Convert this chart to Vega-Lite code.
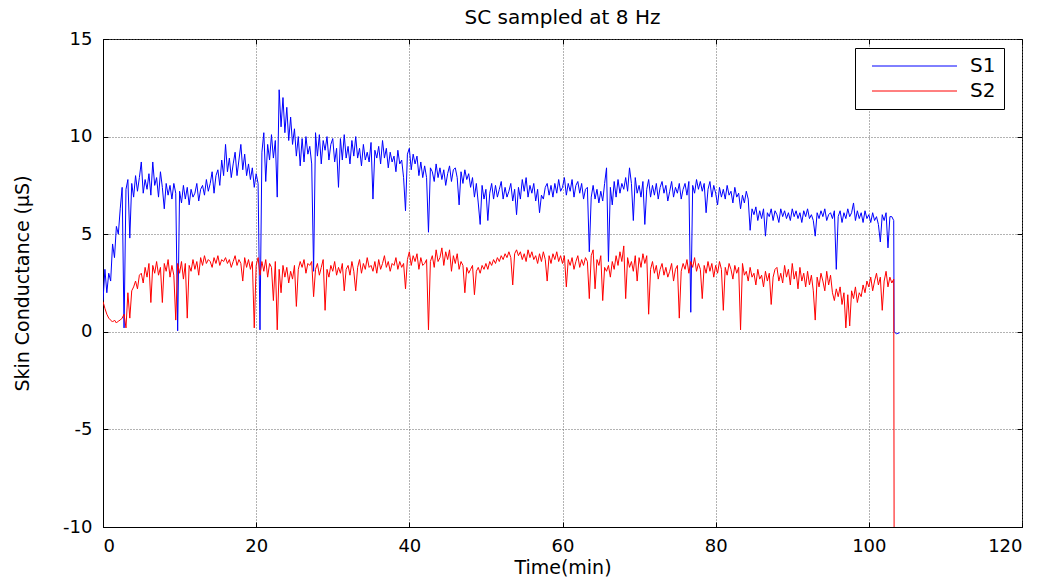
{
"$schema":"https://vega.github.io/schema/vega-lite/v6.json",
"width":919,"height":488,
"autosize":{"type":"none"},
"padding":{"left":103,"top":39,"right":30,"bottom":52},
"background":"white",
"title":{"text":"SC sampled at 8 Hz","font":"DejaVu Sans","fontSize":20,"fontWeight":"normal","color":"black","offset":2},
"data":{"values":[
{"t":0,"S1":1.6,"S2":1.55},{"t":0.25,"S1":3.2,"S2":1.2},{"t":0.5,"S1":2.0,"S2":0.9},{"t":0.75,"S1":3.0,"S2":0.7},
{"t":1,"S1":2.6,"S2":0.6},{"t":1.25,"S1":4.5,"S2":0.5},{"t":1.5,"S1":3.8,"S2":0.6},{"t":1.75,"S1":5.4,"S2":0.45},
{"t":2,"S1":5.0,"S2":0.55},{"t":2.25,"S1":6.3,"S2":0.6},{"t":2.5,"S1":7.4,"S2":0.7},{"t":2.75,"S1":0.2,"S2":0.9},
{"t":3,"S1":7.3,"S2":0.2},{"t":3.25,"S1":7.8,"S2":2.0},{"t":3.5,"S1":4.8,"S2":0.7},{"t":3.75,"S1":7.6,"S2":2.1},
{"t":4,"S1":6.9,"S2":2.3},{"t":4.25,"S1":8.0,"S2":2.6},{"t":4.5,"S1":7.2,"S2":2.2},{"t":4.75,"S1":7.9,"S2":2.9},
{"t":5,"S1":8.7,"S2":3.0},{"t":5.25,"S1":7.1,"S2":2.5},{"t":5.5,"S1":7.8,"S2":3.3},{"t":5.75,"S1":7.3,"S2":2.8},
{"t":6,"S1":8.1,"S2":3.5},{"t":6.25,"S1":7.0,"S2":1.5},{"t":6.5,"S1":8.7,"S2":3.4},{"t":6.75,"S1":7.5,"S2":3.0},
{"t":7,"S1":7.9,"S2":3.6},{"t":7.25,"S1":6.9,"S2":2.9},{"t":7.5,"S1":8.2,"S2":3.3},{"t":7.75,"S1":7.4,"S2":1.5},
{"t":8,"S1":6.3,"S2":3.5},{"t":8.25,"S1":7.6,"S2":3.1},{"t":8.5,"S1":7.0,"S2":3.7},{"t":8.75,"S1":7.5,"S2":2.8},
{"t":9,"S1":6.8,"S2":3.4},{"t":9.25,"S1":7.6,"S2":2.9},{"t":9.5,"S1":7.1,"S2":0.6},{"t":9.75,"S1":0.05,"S2":3.5},
{"t":10,"S1":7.2,"S2":3.0},{"t":10.25,"S1":6.6,"S2":3.6},{"t":10.5,"S1":7.5,"S2":2.7},{"t":10.75,"S1":6.8,"S2":3.5},
{"t":11,"S1":7.4,"S2":0.7},{"t":11.25,"S1":6.5,"S2":3.4},{"t":11.5,"S1":7.3,"S2":3.1},{"t":11.75,"S1":6.9,"S2":3.7},
{"t":12,"S1":7.1,"S2":3.2},{"t":12.25,"S1":7.6,"S2":3.6},{"t":12.5,"S1":6.7,"S2":2.9},{"t":12.75,"S1":7.3,"S2":3.8},
{"t":13,"S1":7.5,"S2":3.4},{"t":13.25,"S1":7.0,"S2":3.9},{"t":13.5,"S1":7.8,"S2":3.5},{"t":13.75,"S1":7.2,"S2":3.7},
{"t":14,"S1":7.6,"S2":3.6},{"t":14.25,"S1":8.2,"S2":3.3},{"t":14.5,"S1":7.1,"S2":3.8},{"t":14.75,"S1":8.0,"S2":3.5},
{"t":15,"S1":8.3,"S2":3.9},{"t":15.25,"S1":7.5,"S2":3.4},{"t":15.5,"S1":8.8,"S2":3.7},{"t":15.75,"S1":8.0,"S2":3.6},
{"t":16,"S1":9.6,"S2":3.8},{"t":16.25,"S1":8.2,"S2":3.5},{"t":16.5,"S1":8.9,"S2":3.7},{"t":16.75,"S1":7.9,"S2":3.3},
{"t":17,"S1":8.6,"S2":3.6},{"t":17.25,"S1":9.2,"S2":3.9},{"t":17.5,"S1":8.0,"S2":3.4},{"t":17.75,"S1":8.8,"S2":3.7},
{"t":18,"S1":9.6,"S2":3.5},{"t":18.25,"S1":8.3,"S2":2.6},{"t":18.5,"S1":9.1,"S2":3.8},{"t":18.75,"S1":8.0,"S2":3.3},
{"t":19,"S1":8.6,"S2":3.7},{"t":19.25,"S1":7.8,"S2":3.2},{"t":19.5,"S1":8.4,"S2":3.6},{"t":19.75,"S1":7.4,"S2":0.2},
{"t":20,"S1":8.1,"S2":3.4},{"t":20.25,"S1":7.6,"S2":3.8},{"t":20.5,"S1":0.1,"S2":2.9},{"t":20.75,"S1":9.2,"S2":3.6},
{"t":21,"S1":10.2,"S2":3.1},{"t":21.25,"S1":7.7,"S2":3.7},{"t":21.5,"S1":9.6,"S2":2.8},{"t":21.75,"S1":8.8,"S2":3.5},
{"t":22,"S1":10.1,"S2":3.3},{"t":22.25,"S1":8.9,"S2":1.6},{"t":22.5,"S1":9.8,"S2":3.6},{"t":22.75,"S1":6.9,"S2":0.1},
{"t":23,"S1":12.4,"S2":3.2},{"t":23.25,"S1":10.5,"S2":2.0},{"t":23.5,"S1":12.0,"S2":3.4},{"t":23.75,"S1":10.2,"S2":2.8},
{"t":24,"S1":11.5,"S2":3.3},{"t":24.25,"S1":9.8,"S2":2.5},{"t":24.5,"S1":11.0,"S2":3.1},{"t":24.75,"S1":9.6,"S2":2.7},
{"t":25,"S1":10.4,"S2":3.4},{"t":25.25,"S1":9.0,"S2":1.3},{"t":25.5,"S1":10.0,"S2":3.2},{"t":25.75,"S1":8.5,"S2":3.6},
{"t":26,"S1":9.9,"S2":3.3},{"t":26.25,"S1":8.7,"S2":3.7},{"t":26.5,"S1":10.0,"S2":3.0},{"t":26.75,"S1":9.1,"S2":3.5},
{"t":27,"S1":9.5,"S2":3.4},{"t":27.25,"S1":8.6,"S2":3.6},{"t":27.5,"S1":3.1,"S2":1.8},{"t":27.75,"S1":10.2,"S2":3.2},
{"t":28,"S1":9.0,"S2":3.5},{"t":28.25,"S1":10.1,"S2":2.9},{"t":28.5,"S1":8.6,"S2":3.3},{"t":28.75,"S1":9.8,"S2":3.7},
{"t":29,"S1":9.3,"S2":1.1},{"t":29.25,"S1":10.0,"S2":3.2},{"t":29.5,"S1":8.8,"S2":2.8},{"t":29.75,"S1":9.6,"S2":3.4},
{"t":30,"S1":9.9,"S2":3.1},{"t":30.25,"S1":8.7,"S2":3.6},{"t":30.5,"S1":9.4,"S2":2.9},{"t":30.75,"S1":7.4,"S2":3.3},
{"t":31,"S1":9.9,"S2":3.0},{"t":31.25,"S1":8.8,"S2":3.5},{"t":31.5,"S1":10.1,"S2":2.1},{"t":31.75,"S1":8.9,"S2":3.2},
{"t":32,"S1":9.5,"S2":3.4},{"t":32.25,"S1":8.6,"S2":2.9},{"t":32.5,"S1":9.8,"S2":3.6},{"t":32.75,"S1":9.0,"S2":3.1},
{"t":33,"S1":10.0,"S2":2.1},{"t":33.25,"S1":8.9,"S2":3.3},{"t":33.5,"S1":9.4,"S2":3.7},{"t":33.75,"S1":8.5,"S2":3.0},
{"t":34,"S1":9.6,"S2":3.5},{"t":34.25,"S1":8.8,"S2":3.2},{"t":34.5,"S1":9.2,"S2":3.8},{"t":34.75,"S1":8.7,"S2":3.3},
{"t":35,"S1":9.7,"S2":3.4},{"t":35.25,"S1":6.8,"S2":3.1},{"t":35.5,"S1":9.3,"S2":3.6},{"t":35.75,"S1":8.9,"S2":3.0},
{"t":36,"S1":9.5,"S2":3.7},{"t":36.25,"S1":8.6,"S2":3.2},{"t":36.5,"S1":9.8,"S2":3.5},{"t":36.75,"S1":8.9,"S2":3.9},
{"t":37,"S1":9.4,"S2":3.3},{"t":37.25,"S1":8.4,"S2":3.6},{"t":37.5,"S1":9.2,"S2":3.1},{"t":37.75,"S1":8.7,"S2":3.5},
{"t":38,"S1":9.0,"S2":3.4},{"t":38.25,"S1":8.2,"S2":3.8},{"t":38.5,"S1":9.3,"S2":3.2},{"t":38.75,"S1":8.6,"S2":3.6},
{"t":39,"S1":8.8,"S2":3.3},{"t":39.25,"S1":7.9,"S2":3.5},{"t":39.5,"S1":6.2,"S2":2.2},{"t":39.75,"S1":9.1,"S2":3.7},
{"t":40,"S1":9.4,"S2":4.1},{"t":40.25,"S1":8.3,"S2":3.4},{"t":40.5,"S1":9.1,"S2":3.9},{"t":40.75,"S1":8.6,"S2":3.6},
{"t":41,"S1":9.0,"S2":4.0},{"t":41.25,"S1":8.0,"S2":3.2},{"t":41.5,"S1":8.7,"S2":3.8},{"t":41.75,"S1":7.9,"S2":3.4},
{"t":42,"S1":8.5,"S2":3.5},{"t":42.25,"S1":7.9,"S2":3.7},{"t":42.5,"S1":5.1,"S2":0.1},{"t":42.75,"S1":8.4,"S2":3.6},
{"t":43,"S1":8.2,"S2":3.9},{"t":43.25,"S1":7.7,"S2":3.3},{"t":43.5,"S1":8.6,"S2":4.2},{"t":43.75,"S1":7.9,"S2":3.6},
{"t":44,"S1":8.4,"S2":3.8},{"t":44.25,"S1":7.8,"S2":4.3},{"t":44.5,"S1":8.3,"S2":3.4},{"t":44.75,"S1":7.5,"S2":4.1},
{"t":45,"S1":8.1,"S2":3.7},{"t":45.25,"S1":8.5,"S2":4.2},{"t":45.5,"S1":7.7,"S2":3.1},{"t":45.75,"S1":8.3,"S2":3.9},
{"t":46,"S1":8.4,"S2":3.5},{"t":46.25,"S1":7.9,"S2":4.0},{"t":46.5,"S1":6.5,"S2":3.2},{"t":46.75,"S1":8.2,"S2":3.6},
{"t":47,"S1":7.6,"S2":3.4},{"t":47.25,"S1":8.3,"S2":2.0},{"t":47.5,"S1":7.8,"S2":3.3},{"t":47.75,"S1":8.1,"S2":3.0},
{"t":48,"S1":7.4,"S2":3.2},{"t":48.25,"S1":7.9,"S2":3.4},{"t":48.5,"S1":6.9,"S2":1.9},{"t":48.75,"S1":7.6,"S2":3.1},
{"t":49,"S1":6.6,"S2":3.3},{"t":49.25,"S1":5.5,"S2":3.0},{"t":49.5,"S1":7.5,"S2":3.4},{"t":49.75,"S1":6.8,"S2":3.2},
{"t":50,"S1":7.3,"S2":3.5},{"t":50.25,"S1":5.7,"S2":3.2},{"t":50.5,"S1":7.1,"S2":3.6},{"t":50.75,"S1":7.6,"S2":3.4},
{"t":51,"S1":6.8,"S2":3.7},{"t":51.25,"S1":7.5,"S2":3.5},{"t":51.5,"S1":6.9,"S2":3.8},{"t":51.75,"S1":7.3,"S2":3.6},
{"t":52,"S1":7.7,"S2":3.9},{"t":52.25,"S1":6.8,"S2":3.7},{"t":52.5,"S1":7.4,"S2":4.0},{"t":52.75,"S1":6.9,"S2":3.8},
{"t":53,"S1":7.2,"S2":4.1},{"t":53.25,"S1":7.6,"S2":3.8},{"t":53.5,"S1":6.7,"S2":2.4},{"t":53.75,"S1":7.3,"S2":4.0},
{"t":54,"S1":6.0,"S2":4.2},{"t":54.25,"S1":7.4,"S2":3.9},{"t":54.5,"S1":6.8,"S2":4.1},{"t":54.75,"S1":7.8,"S2":3.7},
{"t":55,"S1":7.2,"S2":4.0},{"t":55.25,"S1":7.9,"S2":3.6},{"t":55.5,"S1":6.9,"S2":4.2},{"t":55.75,"S1":7.5,"S2":3.8},
{"t":56,"S1":7.1,"S2":4.1},{"t":56.25,"S1":7.6,"S2":3.7},{"t":56.5,"S1":6.7,"S2":3.9},{"t":56.75,"S1":7.3,"S2":3.5},
{"t":57,"S1":6.1,"S2":4.0},{"t":57.25,"S1":7.0,"S2":3.6},{"t":57.5,"S1":6.8,"S2":4.1},{"t":57.75,"S1":7.4,"S2":3.7},
{"t":58,"S1":7.6,"S2":2.6},{"t":58.25,"S1":7.0,"S2":3.9},{"t":58.5,"S1":7.5,"S2":3.5},{"t":58.75,"S1":6.9,"S2":4.0},
{"t":59,"S1":7.6,"S2":3.7},{"t":59.25,"S1":7.1,"S2":4.1},{"t":59.5,"S1":7.8,"S2":3.6},{"t":59.75,"S1":7.2,"S2":3.9},
{"t":60,"S1":7.4,"S2":3.5},{"t":60.25,"S1":7.9,"S2":3.9},{"t":60.5,"S1":7.0,"S2":2.3},{"t":60.75,"S1":7.6,"S2":3.7},
{"t":61,"S1":7.2,"S2":3.4},{"t":61.25,"S1":7.8,"S2":3.8},{"t":61.5,"S1":6.9,"S2":3.2},{"t":61.75,"S1":7.5,"S2":3.6},
{"t":62,"S1":7.7,"S2":3.9},{"t":62.25,"S1":7.1,"S2":3.3},{"t":62.5,"S1":7.6,"S2":3.7},{"t":62.75,"S1":6.8,"S2":3.4},
{"t":63,"S1":7.3,"S2":3.8},{"t":63.25,"S1":7.4,"S2":3.6},{"t":63.5,"S1":4.1,"S2":1.7},{"t":63.75,"S1":6.9,"S2":3.9},
{"t":64,"S1":7.5,"S2":4.2},{"t":64.25,"S1":6.8,"S2":2.2},{"t":64.5,"S1":7.3,"S2":3.7},{"t":64.75,"S1":6.6,"S2":3.4},
{"t":65,"S1":7.2,"S2":3.9},{"t":65.25,"S1":6.7,"S2":1.6},{"t":65.5,"S1":7.6,"S2":3.3},{"t":65.75,"S1":8.4,"S2":3.1},
{"t":66,"S1":3.6,"S2":3.4},{"t":66.25,"S1":7.4,"S2":2.8},{"t":66.5,"S1":6.5,"S2":3.6},{"t":66.75,"S1":7.7,"S2":3.2},
{"t":67,"S1":6.9,"S2":3.9},{"t":67.25,"S1":7.8,"S2":3.4},{"t":67.5,"S1":7.1,"S2":4.1},{"t":67.75,"S1":7.6,"S2":3.6},
{"t":68,"S1":7.3,"S2":4.4},{"t":68.25,"S1":7.9,"S2":1.7},{"t":68.5,"S1":7.2,"S2":3.8},{"t":68.75,"S1":8.4,"S2":3.3},
{"t":69,"S1":7.6,"S2":3.6},{"t":69.25,"S1":5.7,"S2":3.1},{"t":69.5,"S1":7.9,"S2":3.9},{"t":69.75,"S1":7.1,"S2":2.6},
{"t":70,"S1":7.5,"S2":3.8},{"t":70.25,"S1":6.9,"S2":3.3},{"t":70.5,"S1":7.7,"S2":4.0},{"t":70.75,"S1":5.5,"S2":3.5},
{"t":71,"S1":7.3,"S2":3.9},{"t":71.25,"S1":7.8,"S2":0.9},{"t":71.5,"S1":6.9,"S2":3.2},{"t":71.75,"S1":7.5,"S2":3.6},
{"t":72,"S1":7.0,"S2":3.0},{"t":72.25,"S1":7.6,"S2":3.4},{"t":72.5,"S1":6.8,"S2":2.7},{"t":72.75,"S1":7.4,"S2":3.2},
{"t":73,"S1":7.7,"S2":3.5},{"t":73.25,"S1":7.1,"S2":2.9},{"t":73.5,"S1":7.5,"S2":3.3},{"t":73.75,"S1":6.7,"S2":2.8},
{"t":74,"S1":7.2,"S2":3.1},{"t":74.25,"S1":7.7,"S2":3.5},{"t":74.5,"S1":6.9,"S2":2.6},{"t":74.75,"S1":7.4,"S2":3.2},
{"t":75,"S1":7.1,"S2":3.4},{"t":75.25,"S1":7.6,"S2":0.7},{"t":75.5,"S1":6.8,"S2":3.1},{"t":75.75,"S1":7.3,"S2":3.5},
{"t":76,"S1":7.6,"S2":3.2},{"t":76.25,"S1":7.0,"S2":3.7},{"t":76.5,"S1":7.7,"S2":3.0},{"t":76.75,"S1":1.0,"S2":3.6},
{"t":77,"S1":7.5,"S2":3.3},{"t":77.25,"S1":7.1,"S2":3.8},{"t":77.5,"S1":7.8,"S2":3.1},{"t":77.75,"S1":7.3,"S2":3.5},
{"t":78,"S1":7.7,"S2":3.2},{"t":78.25,"S1":7.2,"S2":1.7},{"t":78.5,"S1":7.6,"S2":3.4},{"t":78.75,"S1":6.1,"S2":3.0},
{"t":79,"S1":7.3,"S2":3.6},{"t":79.25,"S1":7.7,"S2":3.1},{"t":79.5,"S1":6.9,"S2":3.5},{"t":79.75,"S1":7.5,"S2":2.8},
{"t":80,"S1":7.1,"S2":3.4},{"t":80.25,"S1":6.5,"S2":3.0},{"t":80.5,"S1":7.4,"S2":3.6},{"t":80.75,"S1":6.9,"S2":3.2},
{"t":81,"S1":7.3,"S2":1.1},{"t":81.25,"S1":6.8,"S2":3.3},{"t":81.5,"S1":7.5,"S2":2.9},{"t":81.75,"S1":7.0,"S2":3.5},
{"t":82,"S1":7.2,"S2":3.2},{"t":82.25,"S1":6.6,"S2":2.7},{"t":82.5,"S1":7.4,"S2":3.4},{"t":82.75,"S1":6.9,"S2":3.0},
{"t":83,"S1":7.1,"S2":3.3},{"t":83.25,"S1":6.3,"S2":0.1},{"t":83.5,"S1":7.0,"S2":3.5},{"t":83.75,"S1":6.6,"S2":2.9},
{"t":84,"S1":7.2,"S2":3.1},{"t":84.25,"S1":6.8,"S2":2.6},{"t":84.5,"S1":5.2,"S2":3.3},{"t":84.75,"S1":6.3,"S2":2.8},
{"t":85,"S1":6.0,"S2":3.0},{"t":85.25,"S1":6.4,"S2":2.4},{"t":85.5,"S1":5.7,"S2":3.2},{"t":85.75,"S1":6.2,"S2":2.7},
{"t":86,"S1":5.8,"S2":2.9},{"t":86.25,"S1":6.3,"S2":2.3},{"t":86.5,"S1":4.9,"S2":3.1},{"t":86.75,"S1":6.1,"S2":2.6},
{"t":87,"S1":5.9,"S2":3.0},{"t":87.25,"S1":6.3,"S2":1.4},{"t":87.5,"S1":5.7,"S2":2.8},{"t":87.75,"S1":6.2,"S2":3.2},
{"t":88,"S1":6.0,"S2":3.3},{"t":88.25,"S1":5.6,"S2":2.6},{"t":88.5,"S1":6.3,"S2":3.0},{"t":88.75,"S1":5.9,"S2":2.5},
{"t":89,"S1":6.2,"S2":3.4},{"t":89.25,"S1":5.8,"S2":2.8},{"t":89.5,"S1":6.1,"S2":3.2},{"t":89.75,"S1":5.7,"S2":2.4},
{"t":90,"S1":6.3,"S2":3.5},{"t":90.25,"S1":5.9,"S2":2.7},{"t":90.5,"S1":6.2,"S2":3.1},{"t":90.75,"S1":5.8,"S2":2.2},
{"t":91,"S1":6.1,"S2":3.3},{"t":91.25,"S1":5.6,"S2":2.6},{"t":91.5,"S1":6.2,"S2":3.0},{"t":91.75,"S1":5.9,"S2":2.3},
{"t":92,"S1":6.3,"S2":3.1},{"t":92.25,"S1":5.8,"S2":2.4},{"t":92.5,"S1":6.0,"S2":2.9},{"t":92.75,"S1":5.7,"S2":2.1},
{"t":93,"S1":4.9,"S2":0.6},{"t":93.25,"S1":6.1,"S2":2.8},{"t":93.5,"S1":5.8,"S2":2.3},{"t":93.75,"S1":6.2,"S2":3.0},
{"t":94,"S1":5.9,"S2":2.6},{"t":94.25,"S1":6.3,"S2":2.1},{"t":94.5,"S1":5.7,"S2":3.1},{"t":94.75,"S1":6.0,"S2":2.4},
{"t":95,"S1":6.1,"S2":2.9},{"t":95.25,"S1":5.8,"S2":2.0},{"t":95.5,"S1":6.2,"S2":1.6},{"t":95.75,"S1":3.2,"S2":2.2},
{"t":96,"S1":5.9,"S2":1.8},{"t":96.25,"S1":6.2,"S2":2.3},{"t":96.5,"S1":5.6,"S2":1.4},{"t":96.75,"S1":6.1,"S2":2.0},
{"t":97,"S1":5.8,"S2":0.2},{"t":97.25,"S1":6.3,"S2":1.9},{"t":97.5,"S1":5.9,"S2":0.3},{"t":97.75,"S1":6.1,"S2":2.1},
{"t":98,"S1":6.6,"S2":1.7},{"t":98.25,"S1":5.7,"S2":2.3},{"t":98.5,"S1":6.2,"S2":1.5},{"t":98.75,"S1":5.8,"S2":2.0},
{"t":99,"S1":6.1,"S2":1.8},{"t":99.25,"S1":5.6,"S2":2.4},{"t":99.5,"S1":6.2,"S2":2.0},{"t":99.75,"S1":5.8,"S2":2.6},
{"t":100,"S1":6.0,"S2":2.3},{"t":100.25,"S1":5.6,"S2":2.8},{"t":100.5,"S1":6.1,"S2":2.1},{"t":100.75,"S1":5.7,"S2":2.6},
{"t":101,"S1":5.9,"S2":3.0},{"t":101.25,"S1":5.5,"S2":2.4},{"t":101.5,"S1":4.6,"S2":2.8},{"t":101.75,"S1":6.0,"S2":1.1},
{"t":102,"S1":5.7,"S2":2.6},{"t":102.25,"S1":6.1,"S2":3.1},{"t":102.5,"S1":4.3,"S2":2.3},{"t":102.75,"S1":5.9,"S2":2.8},
{"t":103,"S1":5.9,"S2":2.5},{"t":103.25,"S1":5.7,"S2":2.7},
{"t":103.3,"S1":0,"S2":-10},{"t":103.6,"S1":-0.1,"S2":null},{"t":104,"S1":-0.05,"S2":null}
]},
"transform":[{"fold":["S1","S2"],"as":["series","value"]}],
"layer":[
{"mark":{"type":"line","strokeWidth":1,"clip":true},
"encoding":{
"x":{"field":"t","type":"quantitative","scale":{"domain":[0,120],"nice":false},
"axis":{"values":[0,20,40,60,80,100,120],"title":"Time(min)","titleFontSize":19,"grid":true,"labelPadding":15,"titlePadding":3}},
"y":{"field":"value","type":"quantitative","scale":{"domain":[-10,15],"nice":false,"zero":false},
"axis":{"values":[-10,-5,0,5,10,15],"labelExpr":"'' + datum.value","title":"Skin Conductance (μS)","titleFontSize":19,"grid":true,"labelPadding":16,"titlePadding":30}},
"color":{"field":"series","type":"nominal","scale":{"domain":["S1","S2"],"range":["#0000ff","#ff0000"]},
"legend":{"orient":"none","legendX":752,"legendY":9,"title":null,"strokeColor":"black","fillColor":"white","padding":8,
"symbolType":"M-8.5,0L8.5,0","symbolSize":100,"symbolStrokeWidth":1,"symbolOffset":41.5,"labelOffset":45.5,
"labelFont":"DejaVu Sans","labelFontSize":20,"labelColor":"black","rowPadding":5}}
}},
{"mark":{"type":"point","opacity":0},
"encoding":{
"x":{"field":"t","type":"quantitative","axis":{"orient":"top","labels":false,"title":null,"grid":false,"domain":false,"values":[0,20,40,60,80,100,120]}},
"y":{"field":"value","type":"quantitative","axis":{"orient":"right","labels":false,"title":null,"grid":false,"domain":false,"values":[-10,-5,0,5,10,15]}}
}}
],
"resolve":{"axis":{"x":"independent","y":"independent"}},
"config":{
"view":{"stroke":"black","strokeWidth":1},
"axis":{"domainColor":"black","domainWidth":1,"tickColor":"black","tickSize":-5,"tickWidth":1,
"labelFont":"DejaVu Sans","labelFontSize":18,"labelColor":"black",
"titleFont":"DejaVu Sans","titleFontWeight":"normal","titleColor":"black",
"gridColor":"#666666","gridDash":[1,2],"gridWidth":1}
}
}
